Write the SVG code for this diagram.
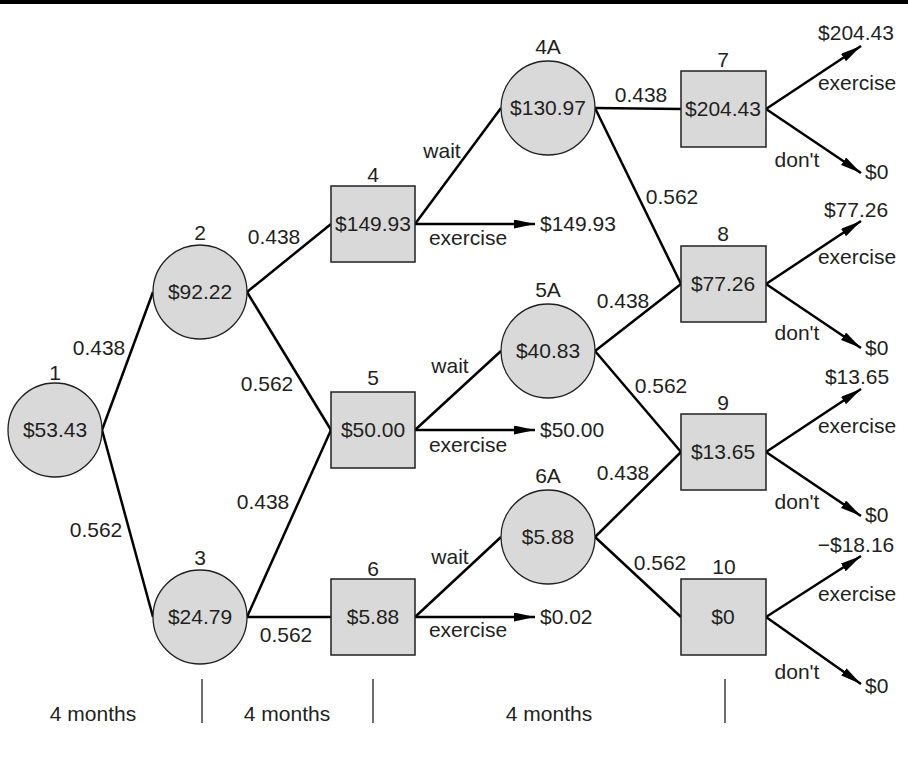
<svg xmlns="http://www.w3.org/2000/svg" width="908" height="761" viewBox="0 0 908 761">
<defs>
<marker id="ah" markerUnits="userSpaceOnUse" markerWidth="22" markerHeight="10" refX="21" refY="4.5" orient="auto">
<path d="M0,0 L21,4.5 L0,9 z" fill="#000"/>
</marker>
<style>
text{font-family:"Liberation Sans",Arial,sans-serif;font-size:21px;fill:#231f20;text-anchor:middle}
.s{text-anchor:start}
.c{fill:#d9d9d9;stroke:#231f20;stroke-width:1.3}
.r{fill:#d9d9d9;stroke:#231f20;stroke-width:1.5}
.l{stroke:#000;stroke-width:2.5;fill:none}
.a{stroke:#000;stroke-width:2.5;fill:none;marker-end:url(#ah)}
.d{stroke:#231f20;stroke-width:1.3}
</style>
</defs>
<rect x="0" y="0" width="908" height="4" fill="#000"/>
<g id="connectors">
<line class="l" x1="102" y1="430" x2="153" y2="292"/>
<line class="l" x1="102" y1="430" x2="153" y2="617"/>
<line class="l" x1="247" y1="292" x2="331" y2="224"/>
<line class="l" x1="247" y1="292" x2="331" y2="430"/>
<line class="l" x1="247" y1="617" x2="331" y2="430"/>
<line class="l" x1="247" y1="617" x2="331" y2="617"/>
<line class="l" x1="415" y1="224" x2="501" y2="108"/>
<line class="a" x1="415" y1="224" x2="535" y2="224"/>
<line class="l" x1="415" y1="430" x2="501" y2="351"/>
<line class="a" x1="415" y1="430" x2="535" y2="430"/>
<line class="l" x1="415" y1="617" x2="501" y2="537"/>
<line class="a" x1="415" y1="617" x2="535" y2="617"/>
<line class="l" x1="595" y1="108" x2="681" y2="109"/>
<line class="l" x1="595" y1="108" x2="681" y2="284"/>
<line class="l" x1="595" y1="351" x2="681" y2="284"/>
<line class="l" x1="595" y1="351" x2="681" y2="452"/>
<line class="l" x1="595" y1="537" x2="681" y2="452"/>
<line class="l" x1="595" y1="537" x2="681" y2="617"/>
<line class="a" x1="766" y1="109" x2="861" y2="46"/>
<line class="a" x1="766" y1="109" x2="861" y2="173"/>
<line class="a" x1="766" y1="284" x2="861" y2="221"/>
<line class="a" x1="766" y1="284" x2="861" y2="348"/>
<line class="a" x1="766" y1="452" x2="861" y2="389"/>
<line class="a" x1="766" y1="452" x2="861" y2="516"/>
<line class="a" x1="766" y1="617" x2="861" y2="556"/>
<line class="a" x1="766" y1="617" x2="861" y2="684"/>
</g>
<g id="edge-labels">
<text x="99" y="355">0.438</text>
<text x="96" y="537">0.562</text>
<text x="274" y="244">0.438</text>
<text x="267" y="391">0.562</text>
<text x="263" y="509">0.438</text>
<text x="286" y="642">0.562</text>
<text x="442" y="158">wait</text>
<text x="450" y="373">wait</text>
<text x="450" y="564">wait</text>
<text x="468" y="245">exercise</text>
<text x="468" y="452">exercise</text>
<text x="468" y="637">exercise</text>
<text class="s" x="540" y="231">$149.93</text>
<text class="s" x="540" y="437">$50.00</text>
<text class="s" x="540" y="624">$0.02</text>
<text x="641" y="102">0.438</text>
<text x="672" y="204">0.562</text>
<text x="623" y="308">0.438</text>
<text x="661" y="393">0.562</text>
<text x="623" y="480">0.438</text>
<text x="660" y="570">0.562</text>
<text x="856" y="40">$204.43</text>
<text x="857" y="90">exercise</text>
<text x="797" y="167">don't</text>
<text class="s" x="865" y="179">$0</text>
<text x="856" y="217">$77.26</text>
<text x="857" y="264">exercise</text>
<text x="797" y="340">don't</text>
<text class="s" x="865" y="355">$0</text>
<text x="857" y="384">$13.65</text>
<text x="857" y="433">exercise</text>
<text x="797" y="509">don't</text>
<text class="s" x="865" y="522">$0</text>
<text x="856" y="552">−$18.16</text>
<text x="857" y="601">exercise</text>
<text x="797" y="679">don't</text>
<text class="s" x="865" y="693">$0</text>
</g>
<g id="node1"><circle class="c" cx="55" cy="430" r="47"/><text x="55" y="380">1</text><text x="55" y="437">$53.43</text></g>
<g id="node2"><circle class="c" cx="200" cy="292" r="47"/><text x="200" y="240">2</text><text x="200" y="299">$92.22</text></g>
<g id="node3"><circle class="c" cx="200" cy="617" r="47"/><text x="200" y="565">3</text><text x="200" y="624">$24.79</text></g>
<g id="node4"><rect class="r" x="331" y="186" width="84" height="76"/><text x="373" y="182">4</text><text x="373" y="231">$149.93</text></g>
<g id="node5"><rect class="r" x="331" y="392" width="84" height="76"/><text x="373" y="385">5</text><text x="373" y="437">$50.00</text></g>
<g id="node6"><rect class="r" x="331" y="579" width="84" height="76"/><text x="373" y="576">6</text><text x="373" y="624">$5.88</text></g>
<g id="node4A"><circle class="c" cx="548" cy="108" r="47"/><text x="548" y="54">4A</text><text x="548" y="115">$130.97</text></g>
<g id="node5A"><circle class="c" cx="548" cy="351" r="47"/><text x="548" y="297">5A</text><text x="548" y="358">$40.83</text></g>
<g id="node6A"><circle class="c" cx="548" cy="537" r="47"/><text x="548" y="483">6A</text><text x="548" y="544">$5.88</text></g>
<g id="node7"><rect class="r" x="681" y="71" width="85" height="76"/><text x="723" y="67">7</text><text x="723" y="116">$204.43</text></g>
<g id="node8"><rect class="r" x="681" y="246" width="85" height="76"/><text x="723" y="241">8</text><text x="723" y="291">$77.26</text></g>
<g id="node9"><rect class="r" x="681" y="414" width="85" height="76"/><text x="723" y="410">9</text><text x="723" y="459">$13.65</text></g>
<g id="node10"><rect class="r" x="681" y="579" width="85" height="76"/><text x="724" y="574">10</text><text x="723" y="624">$0</text></g>
<g id="timeline">
<line class="d" x1="202" y1="679" x2="202" y2="723"/>
<line class="d" x1="373" y1="679" x2="373" y2="723"/>
<line class="d" x1="725" y1="679" x2="725" y2="723"/>
<text x="93" y="721">4 months</text>
<text x="287" y="721">4 months</text>
<text x="549" y="721">4 months</text>
</g>
</svg>
